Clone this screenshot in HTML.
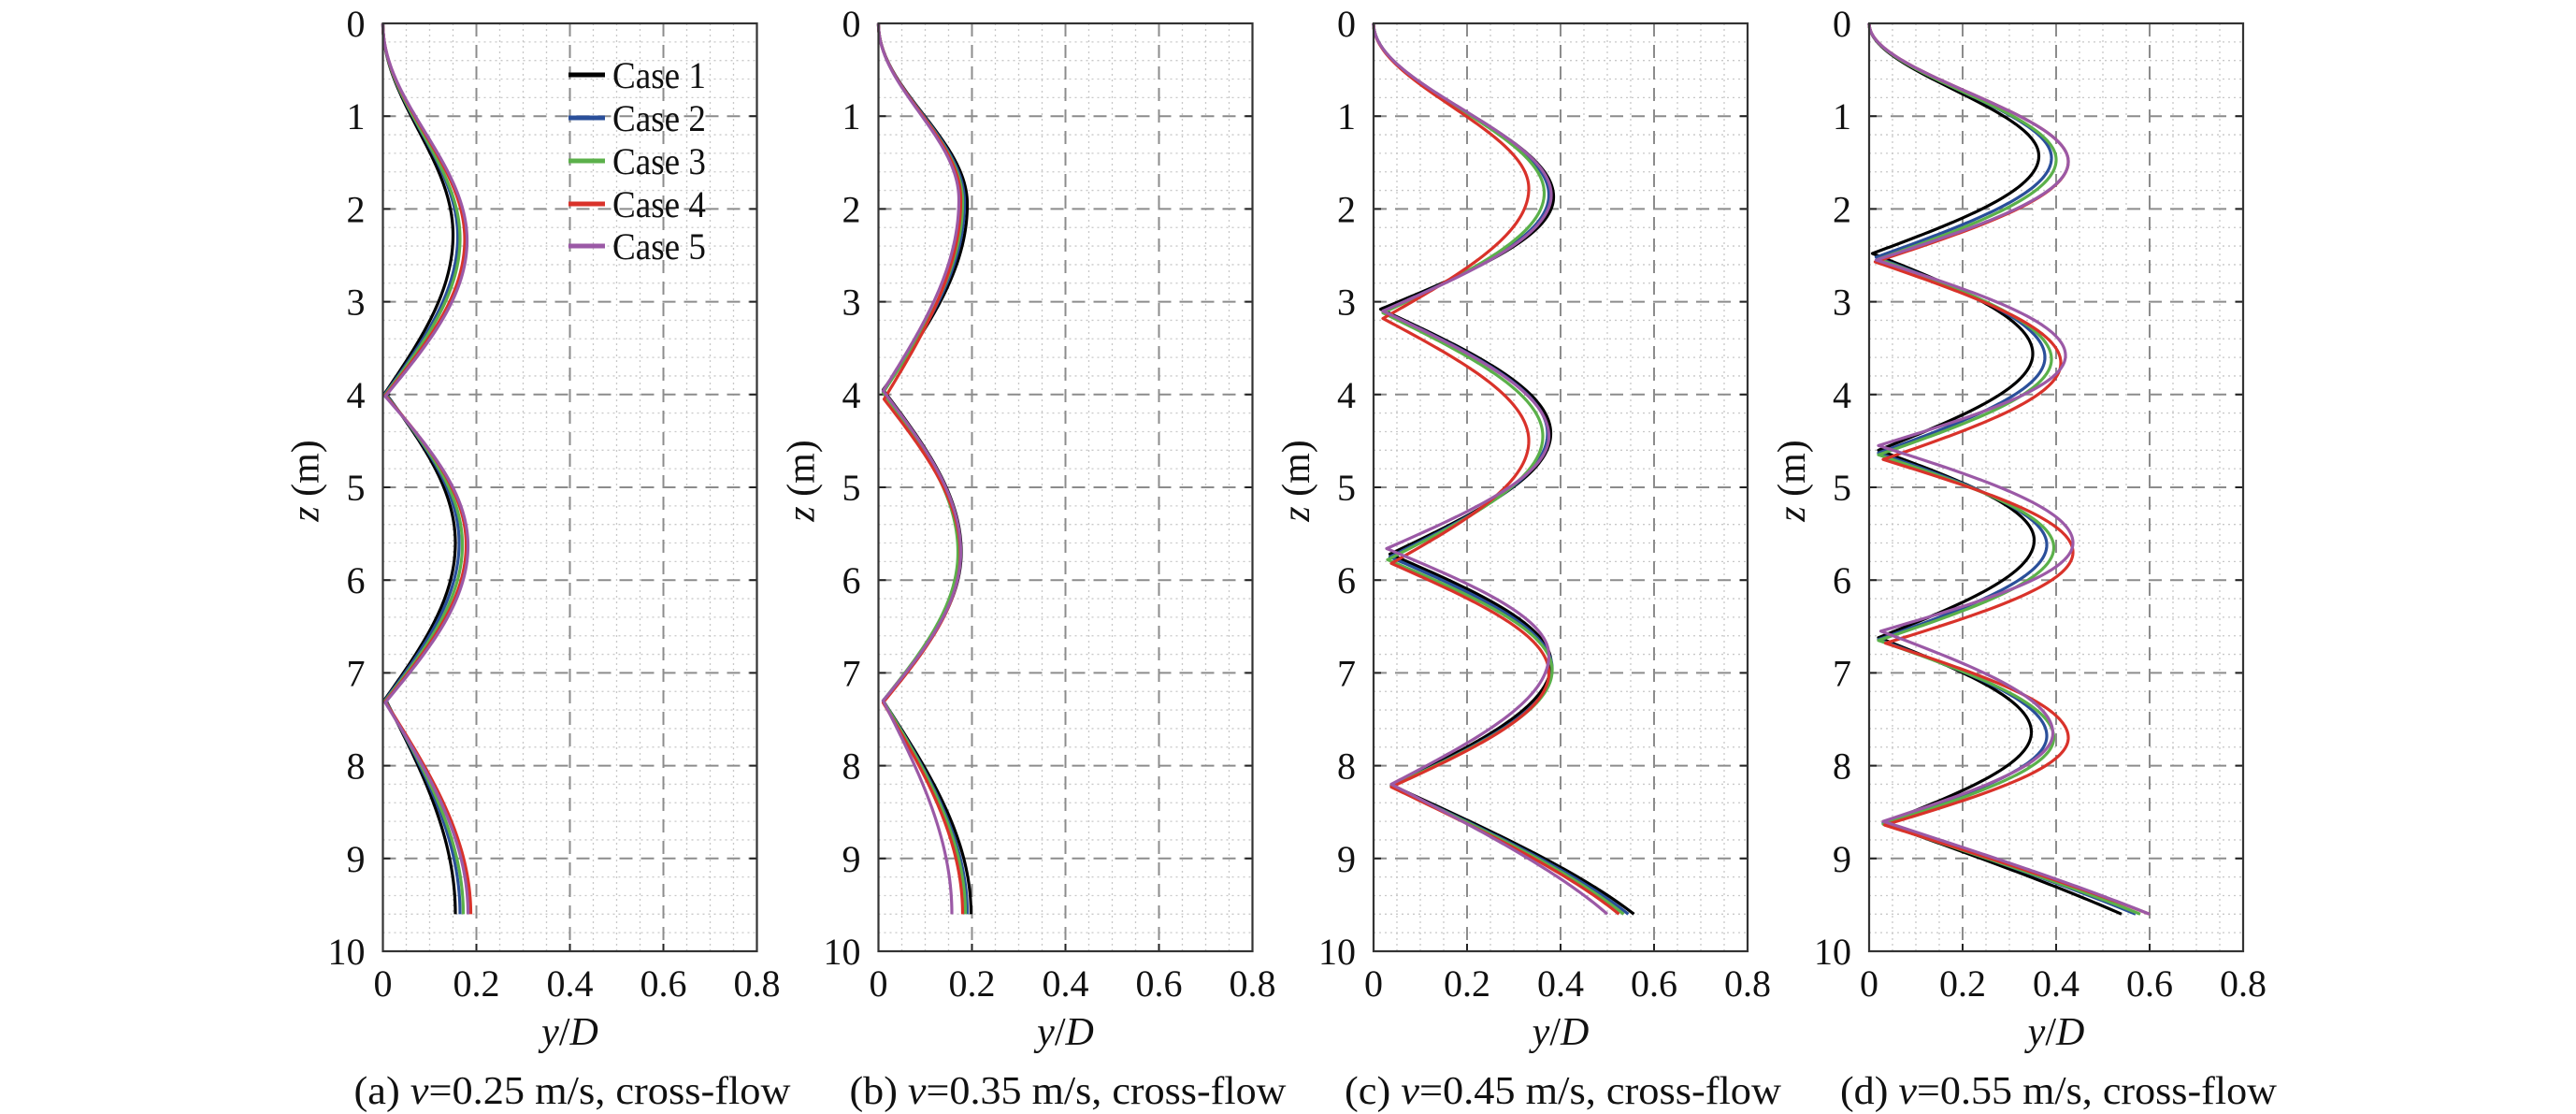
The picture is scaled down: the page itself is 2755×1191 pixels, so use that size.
<!DOCTYPE html>
<html><head><meta charset="utf-8">
<style>html,body{margin:0;padding:0;background:#fff;}svg{display:block;}svg text{font-family:"Liberation Serif","DejaVu Serif",serif;}</style>
</head><body>
<svg id="s" xmlns="http://www.w3.org/2000/svg" width="2755" height="1191" viewBox="0 0 2755 1191">
<rect width="2755" height="1191" fill="#fff"/>
</svg>
<script>
const S=document.getElementById('s');const NS='http://www.w3.org/2000/svg';
function el(t,a,txt){const e=document.createElementNS(NS,t);for(const k in a)e.setAttribute(k,a[k]);if(txt!==undefined)e.textContent=txt;S.appendChild(e);return e;}
function tx(a,parts){const e=el('text',a);parts.forEach(p=>{const s=document.createElementNS(NS,'tspan');if(p[1])s.setAttribute('font-style','italic');s.textContent=p[0];e.appendChild(s);});return e;}
const LX=[409.5,939.5,1469,1999],W=400,T=25,B=1017,H=B-T;
const cols=['#000000','#2a4f9a','#5bb04a','#d9322a','#9b59a6'];
const caps=['(a) ','(b) ','(c) ','(d) '],vs=['0.25','0.35','0.45','0.55'];
const P=[
 {k:[['M',[2.28,2.3,2.32,2.33,2.34],[0.15,0.16,0.165,0.175,0.18]],['m',[3.98,3.99,4.0,4.01,4.02],[0.005,0.005,0.005,0.005,0.005]],['M',[5.6,5.6,5.62,5.62,5.63],[0.155,0.163,0.17,0.178,0.182]],['m',[7.28,7.29,7.3,7.31,7.32],[0.005,0.005,0.005,0.005,0.005]]],e:[0.155,0.165,0.172,0.188,0.182],f:1.0},
 {k:[['M',[1.95,1.93,1.92,1.9,1.9],[0.19,0.184,0.18,0.176,0.172]],['m',[3.95,3.97,3.98,4.05,3.96],[0.01,0.01,0.01,0.012,0.01]],['M',[5.7,5.7,5.7,5.72,5.7],[0.177,0.172,0.17,0.175,0.176]],['m',[7.3,7.3,7.3,7.32,7.3],[0.01,0.01,0.01,0.01,0.01]]],e:[0.198,0.19,0.186,0.18,0.157],f:1.0},
 {k:[['M',[1.87,1.85,1.83,1.78,1.85],[0.385,0.375,0.365,0.332,0.38]],['m',[3.08,3.1,3.12,3.18,3.1],[0.015,0.02,0.02,0.02,0.02]],['M',[4.42,4.42,4.45,4.5,4.45],[0.379,0.372,0.362,0.332,0.375]],['m',[5.72,5.75,5.78,5.82,5.66],[0.035,0.035,0.03,0.038,0.028]],['M',[6.9,6.95,6.97,7.0,6.81],[0.38,0.382,0.382,0.375,0.375]],['m',[8.21,8.22,8.22,8.23,8.2],[0.038,0.038,0.038,0.038,0.038]]],e:[0.557,0.545,0.535,0.525,0.5],f:0.6},
 {k:[['M',[1.43,1.45,1.47,1.49,1.49],[0.363,0.39,0.4,0.426,0.426]],['m',[2.48,2.52,2.54,2.57,2.55],[0.007,0.015,0.02,0.013,0.015]],['M',[3.56,3.6,3.62,3.66,3.58],[0.35,0.376,0.39,0.41,0.42]],['m',[4.6,4.63,4.65,4.7,4.55],[0.02,0.02,0.02,0.03,0.02]],['M',[5.57,5.62,5.65,5.7,5.6],[0.353,0.38,0.395,0.436,0.436]],['m',[6.62,6.64,6.65,6.68,6.55],[0.02,0.02,0.02,0.035,0.025]],['M',[7.64,7.68,7.7,7.7,7.65],[0.347,0.38,0.395,0.426,0.393]],['m',[8.62,8.62,8.63,8.64,8.6],[0.03,0.03,0.03,0.033,0.03]]],e:[0.54,0.57,0.58,0.6,0.6],f:0.4}
];
function val(p,c,z){
 const kn=[['s',0,0]];p.k.forEach(k=>kn.push([k[0],k[1][c],k[2][c]]));kn.push(['e',9.6,p.e[c]]);
 for(let i=0;i<kn.length-1;i++){const a=kn[i],b=kn[i+1];if(z>=a[1]&&z<=b[1]){const t=(z-a[1])/(b[1]-a[1]);
  if(a[0]=='s')return b[2]*(1-Math.cos(Math.PI*t))/2;
  if(b[0]=='e'){const f=p.f;return a[2]+(b[2]-a[2])*Math.sin(Math.PI/2*t*f)/Math.sin(Math.PI/2*f);}
  if(a[0]=='m')return a[2]+(b[2]-a[2])*Math.sin(Math.PI/2*t);
  return b[2]+(a[2]-b[2])*Math.cos(Math.PI/2*t);}}
 return 0;}
for(let p=0;p<4;p++){
 const L=LX[p],X=v=>L+v/0.8*W,Y=z=>T+z/10*H;
 for(let i=1;i<16;i++){if(i%4)el('line',{x1:X(i*0.05),x2:X(i*0.05),y1:T,y2:B,stroke:'#c8c8c8','stroke-width':1.3,'stroke-dasharray':'2 4'});}
 for(let i=1;i<50;i++){if(i%5)el('line',{x1:L,x2:L+W,y1:Y(i*0.2),y2:Y(i*0.2),stroke:'#c8c8c8','stroke-width':1.3,'stroke-dasharray':'2 4'});}
 for(let i=1;i<4;i++)el('line',{x1:X(i*0.2),x2:X(i*0.2),y1:T,y2:B,stroke:'#8c8c8c','stroke-width':2,'stroke-dasharray':'14 9'});
 for(let i=1;i<10;i++)el('line',{x1:L,x2:L+W,y1:Y(i),y2:Y(i),stroke:'#8c8c8c','stroke-width':2,'stroke-dasharray':'14 9'});
 for(let i=1;i<10;i++){el('line',{x1:L,x2:L+8,y1:Y(i),y2:Y(i),stroke:'#222','stroke-width':2});el('line',{x1:L+W-8,x2:L+W,y1:Y(i),y2:Y(i),stroke:'#222','stroke-width':2});}
 for(let i=1;i<4;i++){el('line',{x1:X(i*0.2),x2:X(i*0.2),y1:B-8,y2:B,stroke:'#222','stroke-width':2});}
 for(let c=0;c<5;c++){let d='';for(let z=0;z<=9.6001;z+=0.01){const zz=Math.min(z,9.6);d+=(d?'L':'M')+X(val(P[p],c,zz)).toFixed(2)+' '+Y(zz).toFixed(2);}
  el('path',{d:d,fill:'none',stroke:cols[c],'stroke-width':3.2,'stroke-linejoin':'round'});}
 el('rect',{x:L,y:T,width:W,height:H,fill:'none',stroke:'#333','stroke-width':2.2});
 for(let i=0;i<=10;i++)el('text',{x:L-19,y:Y(i)+14,'font-size':40,'text-anchor':'end',fill:'#111'},String(i));
 ['0','0.2','0.4','0.6','0.8'].forEach((s,i)=>el('text',{x:X(i*0.2),y:1065,'font-size':40,'text-anchor':'middle',fill:'#111'},s));
 tx({x:L+200,y:1117,'font-size':42,'text-anchor':'middle',fill:'#111'},[['y',1],['/',0],['D',1]]);
 tx({x:0,y:0,'font-size':42,'text-anchor':'middle',fill:'#111',transform:`translate(${L-69},514) rotate(-90)`},[['z',1],[' (m)',0]]);
 tx({x:L-31,y:1180,'font-size':42,fill:'#111',textLength:467,lengthAdjust:'spacingAndGlyphs'},[[caps[p],0],['v',1],['='+vs[p]+' m/s, cross-flow',0]]);
}
const ly=[80,126,172,218,263];
for(let c=0;c<5;c++){el('line',{x1:608,x2:647,y1:ly[c],y2:ly[c],stroke:cols[c],'stroke-width':5});
 el('text',{x:655,y:ly[c]+14,'font-size':40,fill:'#111',textLength:100,lengthAdjust:'spacingAndGlyphs'},'Case '+(c+1));}
</script>
</body></html>
